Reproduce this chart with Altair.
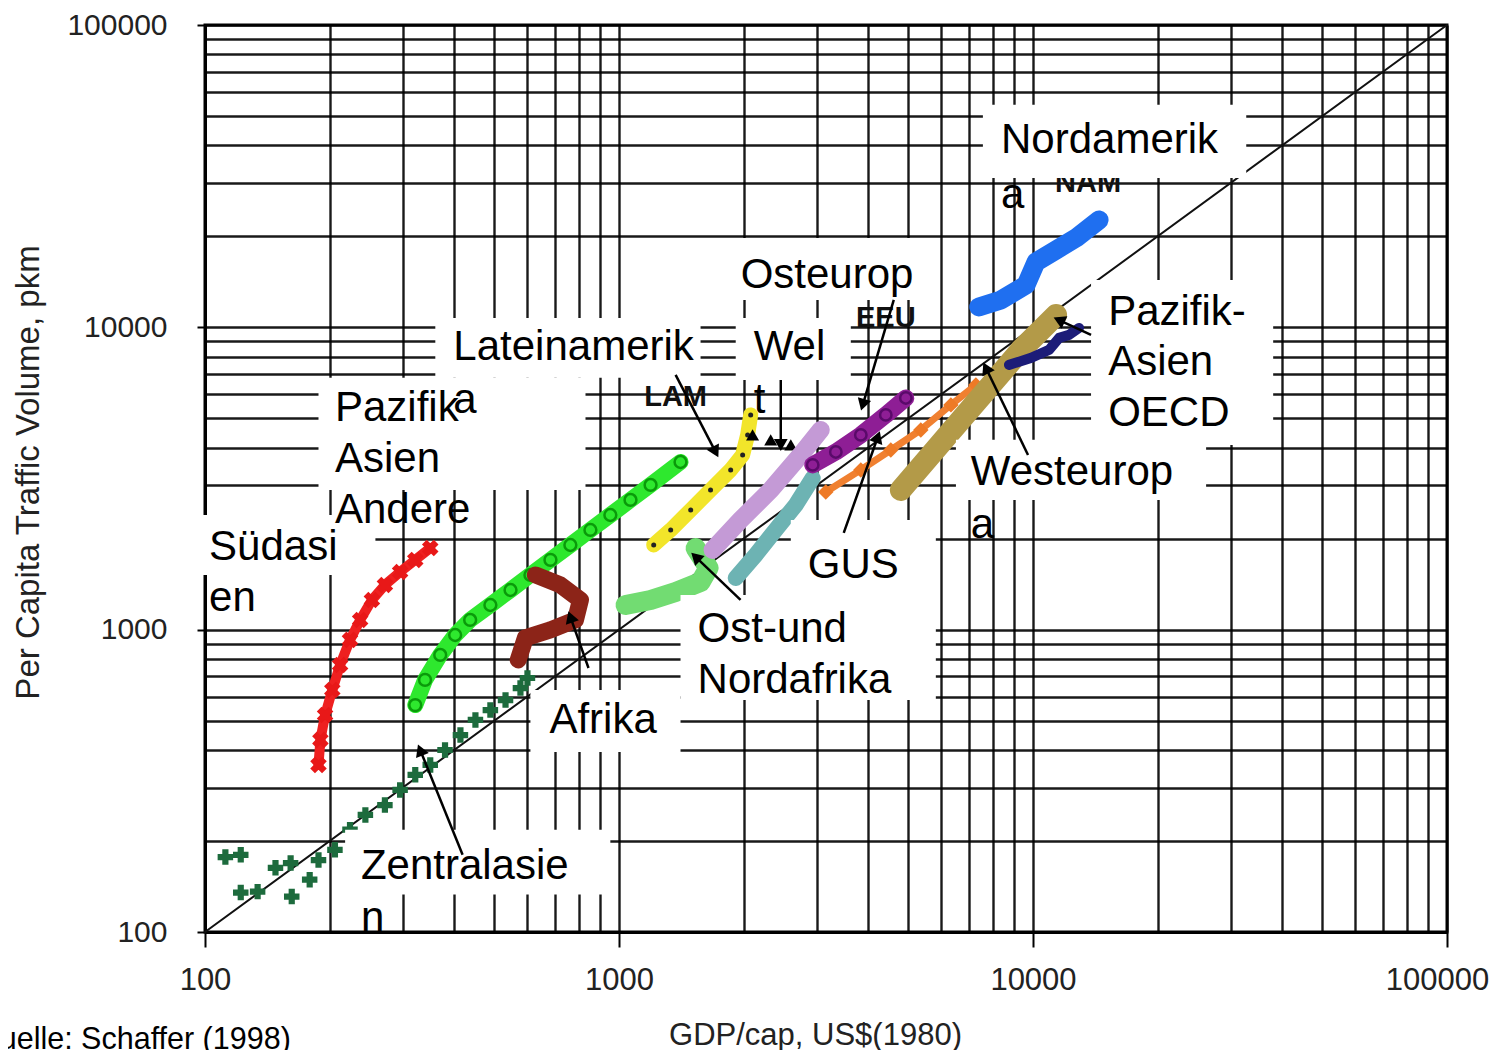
import math
import altair as alt
import pandas as pd

# ---------------- data ----------------
tick_values = [100, 200, 300, 400, 500, 600, 700, 800, 900,
               1000, 2000, 3000, 4000, 5000, 6000, 7000, 8000, 9000,
               10000, 20000, 30000, 40000, 50000, 60000, 70000, 80000, 90000,
               100000]

diag_gdp = [100, 100000]
diag_pkm = [100, 100000]

sud_gdp = [188, 190, 195, 203, 212, 224, 237, 253, 272, 296, 322, 350]
sud_pkm = [357, 432, 522, 632, 764, 925, 1077, 1254, 1406, 1552, 1701, 1862]

paa_gdp = [322, 340, 370, 402, 437, 489, 547, 611, 683, 763, 853, 953, 1066, 1192, 1408]
paa_pkm = [563, 682, 825, 960, 1077, 1207, 1353, 1517, 1701, 1906, 2137, 2395, 2686, 3011, 3586]

zen_gdp = [112, 122, 122, 134, 148, 161, 162, 179, 188, 206, 224, 244, 272, 296, 322, 350,
           380, 414, 450, 489, 532, 578, 601]
zen_pkm = [177, 180, 135, 136, 163, 169, 131, 149, 173, 187, 218, 244, 263, 295, 331, 357,
           400, 448, 503, 542, 585, 641, 692]

afr_gdp = [628, 722, 807, 785, 683, 594, 571]
afr_pkm = [1517, 1406, 1254, 1077, 998, 939, 794]

ona_gdp = [1037, 1192, 1370, 1574, 1645, 1531]
ona_pkm = [1207, 1254, 1333, 1438, 1600, 1862]

lam_gdp = [1213, 1333, 1490, 1664, 1861, 1989, 2045, 2080]
lam_pkm = [1906, 2137, 2489, 2898, 3376, 3784, 4407, 5133]

welt_gdp = [1683, 1966, 2325, 2747, 3071]
welt_pkm = [1835, 2306, 2898, 3784, 4578]

weltblk_gdp = [2102, 2325, 2600]
weltblk_pkm = [4407, 4245, 4083]

gus_gdp = [1914, 2138, 2388, 2672, 2937]
gus_pkm = [1483, 1767, 2137, 2585, 3176]

eeu_gdp = [2937, 3340, 3838, 4410, 4930]
eeu_pkm = [3507, 3871, 4407, 5133, 5840]

mes_gdp = [3158, 3838, 4535, 5358, 6334, 7279]
mes_pkm = [2853, 3376, 3930, 4578, 5540, 6449]

weu_gdp = [4795, 5665, 6693, 7915, 9350, 11370]
weu_pkm = [2898, 3784, 4940, 6449, 8420, 10990]

pao_gdp = [8750, 9890, 10930, 11560, 12220, 12920]
pao_pkm = [7513, 7925, 8420, 9226, 9440, 9954]

nam_gdp = [7397, 8370, 9620, 10170, 11370, 12710, 14440]
nam_pkm = [11680, 12320, 13810, 16450, 18020, 19760, 22660]

# original (scanned) small labels
orig_text = ["LAM", "EEU", "NAM"]
orig_gdp = [1370, 4410, 13580]
orig_pkm = [5888, 10740, 30050]

# annotation boxes (white) in data units
box_gdp = [7568, 1759, 360, 1914, 188, 13810, 6514, 94.6, 2600, 1408, 611, 218]
box_gdp2 = [32740, 5825, 1574, 3630, 830, 38030, 26190, 258, 5825, 5825, 1408, 953]
box_pkm = [54450, 19760, 10740, 10740, 6806, 14350, 4245, 2395, 2306, 1303, 632, 218]
box_pkm2 = [31190, 12320, 6806, 6697, 2898, 4083, 2686, 1517, 1207, 585, 394, 133]

# annotation text lines
lab_text = ["Nordamerik", "a", "Osteurop", "Lateinamerik", "a", "Wel", "t",
            "Pazifik", "Asien", "Andere", "Pazifik-", "Asien", "OECD",
            "Westeurop", "a", "Südasi", "en", "GUS", "Ost-und", "Nordafrika",
            "Afrika", "Zentralasie", "n"]
lab_gdp = [8370, 8370, 1967, 398, 398, 2115, 2115,
           206, 206, 206, 15190, 15190, 15190,
           7077, 7077, 102.3, 102.3, 2857, 1548, 1548,
           679, 238, 238]
lab_pkm = [41690, 27420, 14900, 8615, 5752, 8615, 5752,
           5414, 3670, 2489, 11240, 7686, 5211,
           3324, 2220, 1877, 1273, 1637, 1005, 682,
           503, 165, 111]

# arrows: start -> end (head at end)
arr_gdp = [1370, 2459, 4610, 3490, 1966, 844, 419, 9727, 13810]
arr_pkm = [6960, 6697, 12320, 2089, 1254, 747, 180, 3784, 9440]
arr_gdp2 = [1711, 2459, 3880, 4218, 1531, 763, 331, 7697, 11560]
arr_pkm2 = [3871, 4083, 5540, 4339, 1740, 1102, 400, 7339, 10570]

# ---------------- chart ----------------
W, H = 1242, 907
FONT = "Liberation Sans"

major = "abs(log(datum.value)/LN10 - round(log(datum.value)/LN10)) < 0.001"

xscale = alt.Scale(type="log", domain=[100, 100000], nice=False)
yscale = alt.Scale(type="log", domain=[100, 100000], nice=False)

xaxis = alt.Axis(
    values=tick_values, format="d", labelExpr=f"({major}) ? datum.label : ''",
    grid=True, gridColor="#000000", gridWidth=2.4, gridOpacity=0.9,
    domainColor="#000000", domainWidth=3,
    tickColor="#000000", tickWidth=2, tickSize=15,
    tickOpacity={"condition": {"test": major, "value": 1}, "value": 0},
    labelOffset={"condition": {"test": "datum.value >= 99999", "value": -10}, "value": 0},
    labelFont=FONT, labelFontSize=31, labelColor="#222222", labelPadding=18,
    labelOverlap=False, labelFlush=False,
    title="GDP/cap, US$(1980)", titleFont=FONT, titleFontSize=31,
    titleFontWeight="normal", titleColor="#222222",
    titleX=610, titleY=103, titleAlign="center", titleBaseline="middle",
)
yaxis = alt.Axis(
    values=tick_values, format="d", labelExpr=f"({major}) ? datum.label : ''",
    grid=True, gridColor="#000000", gridWidth=2.4, gridOpacity=0.9,
    domainColor="#000000", domainWidth=3,
    tickColor="#000000", tickWidth=2, tickSize=8,
    tickOpacity={"condition": {"test": major, "value": 1}, "value": 0},
    labelFont=FONT, labelFontSize=30, labelColor="#222222", labelPadding=30,
    labelOverlap=False, labelFlush=False,
    title="Per Capita Traffic Volume, pkm", titleFont=FONT, titleFontSize=33,
    titleFontWeight="normal", titleColor="#222222",
    titleX=-177, titleY=447, titleAngle=270, titleAlign="center", titleBaseline="middle",
)

X = alt.X("gdp:Q", scale=xscale, axis=xaxis)
Y = alt.Y("pkm:Q", scale=yscale, axis=yaxis)


def sdf(g, p):
    return pd.DataFrame({"gdp": g, "pkm": p, "order": list(range(len(g)))})


def line(g, p, color, width, opacity=1.0):
    return alt.Chart(sdf(g, p)).mark_line(
        color=color, strokeWidth=width, strokeCap="round", strokeJoin="round",
        opacity=opacity
    ).encode(x=X, y=Y, order="order:Q")


def pts(g, p, **kw):
    return alt.Chart(sdf(g, p)).mark_point(**kw).encode(x=X, y=Y)


layers = []

# diagonal reference line
layers.append(line(diag_gdp, diag_pkm, "#111111", 2))

# series
layers.append(line(sud_gdp, sud_pkm, "#ee2020", 10))
layers.append(pts(sud_gdp, sud_pkm, shape="cross", angle=45, filled=True,
                  color="#e81818", size=280, opacity=1))

layers.append(pts(zen_gdp, zen_pkm, shape="cross", filled=True,
                  color="#1d6b3d", size=240, opacity=1))

layers.append(line(paa_gdp, paa_pkm, "#2ee82e", 16))
layers.append(pts(paa_gdp, paa_pkm, shape="circle", filled=False,
                  color="#0a9a0a", strokeWidth=2.5, size=140, opacity=1))

layers.append(line(afr_gdp, afr_pkm, "#8c2418", 17))
layers.append(line(ona_gdp, ona_pkm, "#72dc72", 20))

layers.append(line(lam_gdp, lam_pkm, "#f2e52a", 15))
layers.append(pts(lam_gdp, lam_pkm, shape="circle", filled=True,
                  color="#222222", size=25, opacity=1))

layers.append(pts(weltblk_gdp, weltblk_pkm, shape="triangle-up", filled=True,
                  color="#000000", size=170, opacity=1))
layers.append(line(welt_gdp, welt_pkm, "#c49ad6", 18))
layers.append(line(gus_gdp, gus_pkm, "#6db3b3", 16))

layers.append(line(mes_gdp, mes_pkm, "#f08030", 7))
layers.append(pts(mes_gdp, mes_pkm, shape="diamond", filled=True,
                  color="#ee7a26", size=240, opacity=1))

layers.append(line(eeu_gdp, eeu_pkm, "#8e1e95", 17))
layers.append(pts(eeu_gdp, eeu_pkm, shape="circle", filled=False,
                  color="#5a0a6a", strokeWidth=2.5, size=130, opacity=1))

layers.append(line(weu_gdp, weu_pkm, "#b39a48", 22))
layers.append(line(pao_gdp, pao_pkm, "#1c1c78", 10))
layers.append(line(nam_gdp, nam_pkm, "#1f6ff0", 19))

# original small labels of the scanned chart
orig_df = pd.DataFrame({"gdp": orig_gdp, "pkm": orig_pkm, "t": orig_text})
layers.append(alt.Chart(orig_df).mark_text(
    font=FONT, fontSize=29, fontWeight="bold", color="#111111",
    align="center", baseline="middle"
).encode(x=X, y=Y, text="t:N"))

# white annotation boxes
box_df = pd.DataFrame({"gdp": box_gdp, "gdp2": box_gdp2, "pkm": box_pkm, "pkm2": box_pkm2})
layers.append(alt.Chart(box_df).mark_rect(color="white", opacity=1).encode(
    x=X, x2="gdp2:Q", y=Y, y2="pkm2:Q"))

# arrows
arr_df = pd.DataFrame({"gdp": arr_gdp, "pkm": arr_pkm, "gdp2": arr_gdp2, "pkm2": arr_pkm2})
layers.append(alt.Chart(arr_df).mark_rule(color="#000000", strokeWidth=2.5).encode(
    x=X, x2="gdp2:Q", y=Y, y2="pkm2:Q"))

angles = []
for g1, p1, g2, p2 in zip(arr_gdp, arr_pkm, arr_gdp2, arr_pkm2):
    dx = W * (math.log10(g2) - math.log10(g1)) / 3.0
    dy = -H * (math.log10(p2) - math.log10(p1)) / 3.0
    angles.append(math.degrees(math.atan2(dx, -dy)) % 360)
head_df = pd.DataFrame({"gdp": arr_gdp2, "pkm": arr_pkm2, "ang": angles})
layers.append(alt.Chart(head_df).mark_point(
    shape="triangle-up", filled=True, color="#000000", size=190, opacity=1
).encode(x=X, y=Y, angle=alt.Angle("ang:Q", scale=None)))

# label texts
lab_df = pd.DataFrame({"gdp": lab_gdp, "pkm": lab_pkm, "t": lab_text})
layers.append(alt.Chart(lab_df).mark_text(
    font=FONT, fontSize=42, color="#000000", align="left", baseline="middle"
).encode(x=X, y=Y, text="t:N"))

# source note
src_df = pd.DataFrame({"t": ["Quelle: Schaffer (1998)"]})
layers.append(alt.Chart(src_df).mark_text(
    font=FONT, fontSize=30.5, color="#000000", align="left", baseline="alphabetic"
).encode(x=alt.value(-229), y=alt.value(1024), text="t:N"))

chart = alt.layer(*layers).properties(
    width=W, height=H,
    autosize=alt.AutoSizeParams(type="none"),
    padding={"left": 197, "top": 17, "right": 44, "bottom": 118},
).configure_view(stroke="#000000", strokeWidth=3)

chart.save("out.html", embed_options={"renderer": "svg", "actions": False})
